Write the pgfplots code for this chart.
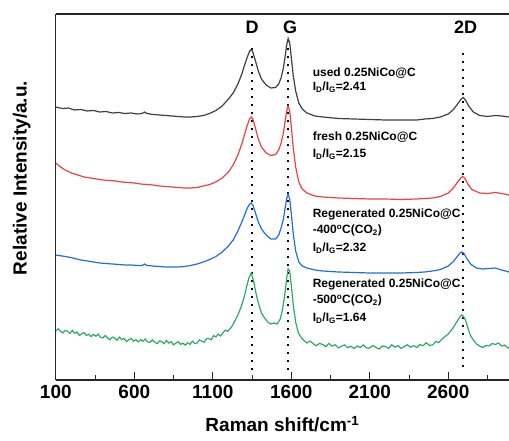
\documentclass[border=0pt]{standalone}
\usepackage{pgfplots}
\pgfplotsset{compat=1.18}
\usepackage{fontspec}
\setmainfont{Liberation Sans}
\definecolor{cblack}{RGB}{64,64,64}
\definecolor{cred}{RGB}{240,64,64}
\definecolor{cblue}{RGB}{30,110,225}
\definecolor{cgreen}{RGB}{46,170,100}
\begin{document}
\begin{tikzpicture}
\useasboundingbox (-55.8pt,-61pt) rectangle (453.2pt,380pt);
\begin{axis}[
  at={(0pt,0pt)}, anchor=south west,
  scale only axis, width=453.2pt, height=366pt,
  xmin=100, xmax=2987, ymin=-380, ymax=-14,
  separate axis lines, axis x line*=box, axis y line*=left,
  axis line style={line width=1.2pt, black!85},
  xtick={100,600,1100,1600,2100,2600},
  minor xtick={350,850,1350,1850,2350,2850},
  xtick pos=left, ytick=\empty,
  tick align=inside,
  major tick length=8pt, minor tick length=4.5pt,
  tick style={line width=1pt, black!85},
  xticklabel style={font=\fontsize{19}{22}\selectfont\bfseries, /pgf/number format/assume math mode=true, yshift=-2pt},
  /pgf/number format/1000 sep={},
  xlabel={Raman shift/cm\textsuperscript{-1}},
  xlabel style={font=\fontsize{19}{22}\selectfont\bfseries, at={(axis description cs:0.5,-0.142)}, anchor=base},
  ylabel={Relative Intensity/a.u.},
  ylabel style={font=\fontsize{19}{22}\selectfont\bfseries, at={(axis description cs:-0.075,0.552)}, anchor=center},
  clip=true,
]
% dotted guide lines
\addplot[black, line width=2pt, dash pattern=on 2pt off 6pt, forget plot] coordinates {(1350,-48) (1350,-370)};
\addplot[black, line width=2pt, dash pattern=on 2pt off 6pt, forget plot] coordinates {(1581,-40) (1581,-370)};
\addplot[black, line width=2pt, dash pattern=on 2pt off 6pt, forget plot] coordinates {(2696,-53) (2696,-370)};
% used
\addplot[cblack, line width=1.2pt] coordinates {
(100,-107) (140,-108.5) (180,-108) (220,-110) (260,-109.5) (300,-111) (340,-110.5) (380,-112) (420,-111.5) (460,-113) (500,-112.5) (540,-113.5) (580,-113) (620,-114) (650,-113.5) (665,-112) (680,-113.5) (720,-114.5) (760,-115) (800,-115.5) (840,-116) (880,-116.5) (920,-117) (960,-117) (1000,-116.5) (1040,-115.5) (1080,-113.5) (1120,-110.5) (1160,-106) (1200,-99) (1230,-93) (1260,-84) (1285,-74) (1305,-64) (1320,-57) (1335,-51) (1345,-49.5) (1355,-52) (1370,-60) (1390,-71) (1410,-79) (1440,-85) (1470,-88) (1500,-87.5) (1520,-84) (1535,-78) (1550,-68) (1562,-55) (1572,-44) (1580,-38.5) (1590,-43) (1600,-57) (1612,-75) (1628,-91) (1648,-103) (1670,-109) (1700,-113) (1750,-116) (1800,-117) (1900,-118.5) (2000,-119) (2100,-119.5) (2200,-120) (2300,-120) (2400,-120) (2450,-119) (2500,-118.5) (2550,-117) (2600,-114) (2630,-110) (2660,-104) (2680,-99.5) (2695,-97.5) (2710,-100) (2730,-106) (2760,-112) (2800,-115.5) (2850,-116.5) (2900,-115.5) (2940,-116) (2987,-117)};
% fresh
\addplot[cred, line width=1.2pt] coordinates {
(100,-163) (130,-167) (160,-170) (200,-173) (240,-175) (280,-177) (320,-178) (360,-179) (400,-180) (440,-180.5) (480,-181) (520,-182) (560,-182.5) (600,-183) (640,-184) (680,-184.5) (720,-185) (760,-186) (800,-186.5) (840,-187) (880,-187.5) (920,-188) (960,-188) (1000,-187.5) (1040,-186) (1080,-184.5) (1120,-182) (1160,-178) (1200,-172) (1230,-165) (1260,-155) (1285,-144) (1305,-133) (1320,-125) (1335,-119) (1345,-117) (1355,-119) (1370,-127) (1390,-139) (1410,-147) (1440,-153) (1470,-155.5) (1500,-154.5) (1520,-150) (1535,-143) (1550,-133) (1562,-120) (1572,-110) (1580,-106) (1590,-111) (1600,-126) (1612,-147) (1628,-167) (1648,-182) (1670,-189) (1700,-193) (1750,-196) (1800,-197) (1900,-198) (2000,-198.5) (2100,-199) (2200,-199) (2300,-199.5) (2400,-199) (2450,-198.5) (2500,-198) (2550,-196.5) (2600,-193) (2630,-188.5) (2660,-182) (2680,-178) (2692,-176.5) (2705,-178) (2725,-184) (2750,-189.5) (2800,-193) (2850,-193.5) (2900,-192.5) (2940,-193.5) (2987,-195)};
% 400
\addplot[cblue, line width=1.2pt] coordinates {
(100,-255) (140,-256) (180,-257) (220,-258.5) (260,-260) (300,-261) (340,-262) (380,-263) (420,-263.5) (460,-264) (500,-264.5) (540,-265) (580,-265) (620,-265.5) (650,-265.5) (665,-264) (680,-265.5) (720,-266) (760,-266.5) (800,-267) (840,-267) (880,-267) (920,-266.5) (960,-265.5) (1000,-264) (1040,-262) (1080,-259.5) (1120,-256.5) (1160,-252) (1200,-246) (1230,-240) (1260,-231) (1285,-222) (1305,-214) (1320,-208) (1335,-204) (1345,-203) (1355,-205) (1370,-212) (1390,-222) (1410,-229) (1440,-235) (1470,-239) (1500,-239) (1520,-235) (1535,-228) (1550,-219) (1562,-207) (1572,-198) (1580,-194) (1590,-199) (1600,-213) (1612,-233) (1628,-251) (1648,-262) (1670,-266) (1700,-268) (1750,-270) (1800,-271) (1900,-272) (2000,-272.5) (2100,-273) (2200,-273) (2300,-273) (2400,-272.5) (2450,-272) (2500,-271) (2550,-269.5) (2600,-266) (2630,-262) (2655,-257) (2675,-253) (2688,-252) (2700,-253.5) (2720,-259) (2745,-264.5) (2780,-268) (2820,-269) (2860,-268.5) (2900,-268) (2940,-270) (2987,-272)};
% 500
\addplot[cgreen, line width=1.2pt] coordinates {
(100,-331) (115,-328.8) (130,-331.2) (145,-333) (160,-330.4) (175,-331.2) (190,-333.5) (205,-330.4) (220,-333.2) (235,-332) (250,-335.4) (265,-333.7) (280,-332.6) (295,-335.4) (310,-334.2) (325,-336.6) (340,-334.4) (355,-336.2) (370,-334.1) (385,-337.4) (400,-337.8) (415,-335.6) (430,-337.9) (445,-339.8) (460,-337.1) (475,-337.9) (490,-340.3) (505,-337.1) (520,-339.7) (535,-338.4) (550,-341.6) (565,-339.7) (580,-338.4) (595,-341.1) (610,-339.7) (625,-341.9) (640,-339.6) (655,-341.2) (670,-338.9) (685,-342.1) (700,-342.2) (715,-339.9) (730,-342.1) (745,-343.7) (760,-340.9) (775,-341.6) (790,-343.7) (805,-340.4) (820,-343.1) (835,-341.7) (850,-344.9) (865,-343.1) (880,-341.7) (895,-344.4) (910,-343.1) (925,-345.2) (940,-342.9) (955,-344.3) (970,-341.2) (985,-343.6) (1000,-343) (1015,-339.9) (1030,-341.3) (1045,-342.2) (1060,-338.6) (1075,-338.5) (1090,-339.9) (1105,-335.6) (1120,-336.9) (1135,-334.2) (1150,-336) (1165,-332.8) (1180,-330.1) (1195,-331.4) (1220,-327) (1240,-321) (1260,-315) (1280,-307) (1300,-297) (1315,-287) (1330,-278) (1345,-273) (1360,-281) (1375,-293) (1390,-303) (1410,-313) (1430,-318) (1450,-322) (1470,-324) (1490,-323) (1510,-324) (1530,-319) (1545,-309) (1560,-293) (1572,-277) (1580,-269) (1590,-271) (1600,-285) (1612,-304) (1628,-322) (1645,-333) (1665,-338) (1685,-341) (1700,-343) (1720,-341.1) (1740,-343.7) (1760,-345.8) (1780,-343.4) (1800,-344.5) (1820,-346.7) (1840,-343.4) (1860,-346.1) (1880,-344.8) (1900,-348) (1920,-346.2) (1940,-344.9) (1960,-347.6) (1980,-346.3) (2000,-348.5) (2020,-346) (2040,-347.5) (2060,-345) (2080,-348) (2100,-348) (2120,-345.5) (2140,-347.5) (2160,-349) (2180,-346) (2200,-346.5) (2220,-348.4) (2240,-344.8) (2260,-347.2) (2280,-345.6) (2300,-348.5) (2320,-346.4) (2340,-344.8) (2360,-347.2) (2380,-345.6) (2400,-347.5) (2420,-344.6) (2440,-345.7) (2460,-342.8) (2480,-345.4) (2500,-345) (2520,-341.5) (2540,-342.5) (2560,-339) (2600,-334) (2630,-328) (2650,-323) (2670,-318) (2685,-315) (2695,-316) (2710,-320) (2725,-328) (2740,-335) (2760,-340) (2780,-344) (2800,-346) (2820,-347.5) (2840,-345.5) (2860,-346) (2880,-343.5) (2900,-344.5) (2920,-343) (2940,-346) (2960,-345) (2980,-348) (2987,-347)};
% peak labels
\node[anchor=base, font=\fontsize{18}{21}\selectfont\bfseries] at (axis cs:1350,-33.3) {D};
\node[anchor=base, font=\fontsize{18}{21}\selectfont\bfseries] at (axis cs:1592,-33.3) {G};
\node[anchor=base, font=\fontsize{18}{21}\selectfont\bfseries] at (axis cs:2711,-33.3) {2D};
% annotations
\begin{scope}[every node/.style={anchor=base west, inner sep=0pt, font=\fontsize{12}{14}\selectfont\bfseries}]
\node at (axis cs:1736,-76.7) {used 0.25NiCo@C};
\node at (axis cs:1736,-90.7) {I\textsubscript{D}/I\textsubscript{G}=2.41};
\node at (axis cs:1736,-140.7) {fresh 0.25NiCo@C};
\node at (axis cs:1736,-157.3) {I\textsubscript{D}/I\textsubscript{G}=2.15};
\node at (axis cs:1736,-217.3) {Regenerated 0.25NiCo@C};
\node at (axis cs:1736,-233.5) {-400\textsuperscript{o}C(CO\textsubscript{2})};
\node at (axis cs:1736,-251.7) {I\textsubscript{D}/I\textsubscript{G}=2.32};
\node at (axis cs:1736,-287.7) {Regenerated 0.25NiCo@C};
\node at (axis cs:1736,-304) {-500\textsuperscript{o}C(CO\textsubscript{2})};
\node at (axis cs:1736,-322) {I\textsubscript{D}/I\textsubscript{G}=1.64};
\end{scope}
\end{axis}
\end{tikzpicture}
\end{document}
